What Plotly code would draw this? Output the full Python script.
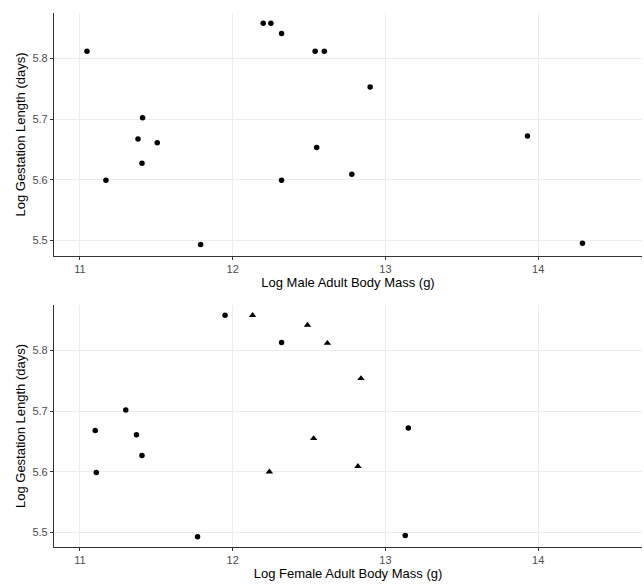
import plotly.graph_objects as go
from plotly.subplots import make_subplots

# Male panel
male_mass = [11.046, 11.17, 11.38, 11.41, 11.406, 11.506, 11.79, 12.20, 12.25, 12.32,
             12.32, 12.54, 12.60, 12.55, 12.90, 12.78, 13.93, 14.29]
male_gest = [5.812, 5.599, 5.667, 5.702, 5.627, 5.661, 5.493, 5.858, 5.858, 5.841,
             5.599, 5.812, 5.812, 5.653, 5.753, 5.609, 5.672, 5.495]

# Female panel, group A (circles)
fem_a_mass = [11.10, 11.107, 11.30, 11.37, 11.406, 11.77, 11.95, 12.32, 13.15, 13.13]
fem_a_gest = [5.668, 5.599, 5.702, 5.661, 5.627, 5.493, 5.858, 5.813, 5.672, 5.495]
# Female panel, group B (triangles)
fem_b_mass = [12.13, 12.49, 12.62, 12.84, 12.82, 12.53, 12.24]
fem_b_gest = [5.858, 5.842, 5.812, 5.754, 5.609, 5.655, 5.600]

x_ticks = [11, 12, 13, 14]
y_ticks = [5.5, 5.6, 5.7, 5.8]

fig = make_subplots(rows=2, cols=1, vertical_spacing=0.0917)

fig.add_trace(go.Scatter(x=male_mass, y=male_gest, mode="markers",
                         marker=dict(symbol="circle", size=5.5, color="black"),
                         showlegend=False), row=1, col=1)
fig.add_trace(go.Scatter(x=fem_a_mass, y=fem_a_gest, mode="markers",
                         marker=dict(symbol="circle", size=5.5, color="black"),
                         showlegend=False), row=2, col=1)
fig.add_trace(go.Scatter(x=fem_b_mass, y=fem_b_gest, mode="markers",
                         marker=dict(symbol="triangle-up", size=6.5, color="black"),
                         showlegend=False), row=2, col=1)

font = "Arial, Liberation Sans, sans-serif"
axis_common = dict(showgrid=True, gridcolor="#EBEBEB", gridwidth=1,
                   showline=True, linecolor="#333333", linewidth=1.2,
                   ticks="outside", ticklen=3, tickcolor="#333333",
                   tickfont=dict(family=font, size=11, color="#4D4D4D"),
                   zeroline=False)

fig.update_layout(
    width=644, height=586,
    margin=dict(l=54, r=2, t=13, b=39),
    paper_bgcolor="white", plot_bgcolor="white",
    font=dict(family=font),
)
fig.update_layout(
    xaxis=dict(domain=[0, 1]), xaxis2=dict(domain=[0, 1]),
    yaxis=dict(domain=[0.5449, 1.0]), yaxis2=dict(domain=[0.0, 0.4532]),
)

for r, title in [(1, "Log Male Adult Body Mass (g)"), (2, "Log Female Adult Body Mass (g)")]:
    fig.update_xaxes(range=[10.83, 14.68], tickvals=x_ticks, ticktext=[str(v) for v in x_ticks],
                     title=dict(text=title, font=dict(family=font, size=13, color="black"), standoff=3),
                     row=r, col=1, **axis_common)
    fig.update_yaxes(tickvals=y_ticks, ticktext=[f"{v:.1f}" for v in y_ticks],
                     title=dict(text="Log Gestation Length (days)", font=dict(family=font, size=13, color="black"), standoff=3),
                     row=r, col=1, **axis_common)

fig.update_yaxes(range=[5.474, 5.875], row=1, col=1)
fig.update_yaxes(range=[5.476, 5.875], row=2, col=1)

fig.write_html("out.html")
